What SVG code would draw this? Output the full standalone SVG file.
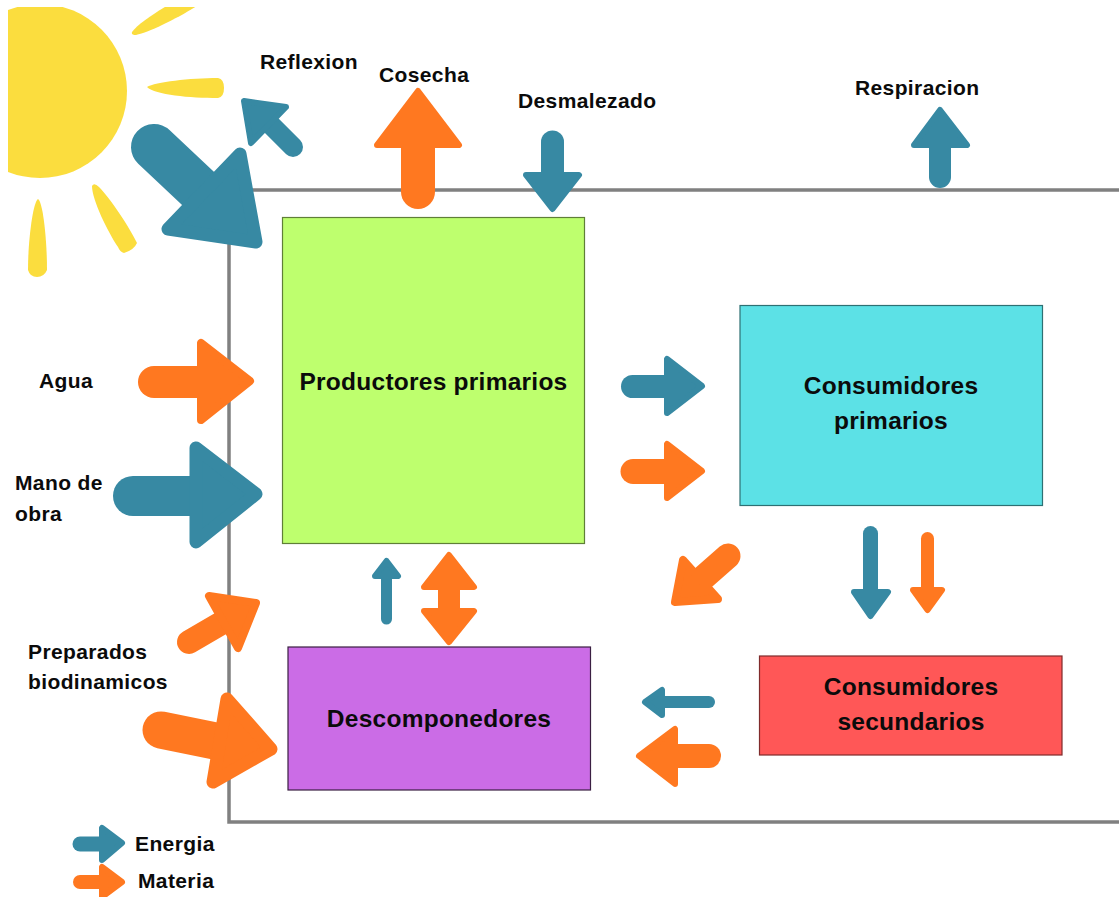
<svg xmlns="http://www.w3.org/2000/svg" width="1119" height="897" viewBox="0 0 1119 897">
<style>
text{font-family:"Liberation Sans",Arial,sans-serif;font-weight:700;fill:#0b0b0b}
.l{font-size:21px;letter-spacing:.38px}
.n{font-size:24.500px;text-anchor:middle;letter-spacing:.25px}
.sun{fill:#fbdd3e}
.box{stroke-width:1.2}
.e .s{stroke:#3789a3;fill:none;stroke-linecap:round}
.e .h{fill:#3789a3;stroke:#3789a3;stroke-width:6;stroke-linejoin:round}
.m .s{stroke:#ff7820;fill:none;stroke-linecap:round}
.m .h{fill:#ff7820;stroke:#ff7820;stroke-width:6;stroke-linejoin:round}
.h.b{stroke-width:13}
.h.k{stroke-width:8}
</style>
<defs><clipPath id="c"><rect x="8" y="7" width="300" height="290"/></clipPath></defs>
<rect width="1119" height="897" fill="#fff"/>
<g id="sun" clip-path="url(#c)">
<circle class="sun" cx="40" cy="91" r="87"/>
<path class="sun" d="M132,32C138,24 153,14 170,4L200,4C180,17 150,32 136,35Q131,35 132,32Z"/>
<path class="sun" d="M147,87C155,82 190,78 218,78Q224,79 224,88Q224,97 218,98C190,98 155,95 147,87Z"/>
<path class="sun" d="M92,186Q94,182 99,187C110,198 130,228 137,243Q134,250 124,253Q120,252 118,247C108,232 92,200 92,186Z"/>
<path class="sun" d="M38,199C43,202 47,240 47,270Q44,277 37,277Q30,277 28,270C28,240 33,202 38,199Z"/>
</g>
<g id="frame"><path d="M1119,190H229V822H1119" fill="none" stroke="#808080" stroke-width="3.5"/></g>
<g id="productores"><rect class="box" x="282.500" y="217.500" width="302" height="326" fill="#beff6e" stroke="#5f7f37"/><text class="n" x="433.500" y="389.500">Productores primarios</text></g>
<g id="consumidores-primarios"><rect class="box" x="740" y="305.500" width="302.500" height="200" fill="#5ce1e6" stroke="#2e7073"/><text class="n" x="891" y="394">Consumidores</text><text class="n" x="891" y="429">primarios</text></g>
<g id="descomponedores"><rect class="box" x="288" y="647" width="302.500" height="143" fill="#cb6ce6" stroke="#3a1f42"/><text class="n" x="439" y="726.500">Descomponedores</text></g>
<g id="consumidores-secundarios"><rect class="box" x="759.500" y="656" width="302.500" height="99" fill="#ff5757" stroke="#7f2b2b"/><text class="n" x="911" y="695">Consumidores</text><text class="n" x="911" y="730">secundarios</text></g>
<g id="connectors">
<g class="e"><path class="s" stroke-width="46" d="M154,147L205,195"/><path class="h b" d="M240,154L256,242L168,229Z"/></g>
<g class="e"><path class="s" stroke-width="20" d="M293,147L268,122"/><path class="h" d="M244,101L286,107L251,143Z"/></g>
<g class="m"><path class="s" stroke-width="34" d="M418,192V140"/><path class="h" d="M418,91L459,145H377Z"/></g>
<g class="e"><path class="s" stroke-width="23" d="M552.500,142V180"/><path class="h" d="M552.500,209L579,175H526Z"/></g>
<g class="e"><path class="s" stroke-width="22" d="M940,177V140"/><path class="h" d="M940,110L967,145H914Z"/></g>
<g class="m"><path class="s" stroke-width="32" d="M154,382H205"/><path class="h k" d="M250,381L201,343V420Z"/></g>
<g class="e"><path class="s" stroke-width="40" d="M133,496H195"/><path class="h b" d="M256,494L196,448V542Z"/></g>
<g class="m"><path class="s" stroke-width="24" d="M189,642L225,621"/><path class="h k" d="M209,596L256,603L238,648Z"/></g>
<g class="m"><path class="s" stroke-width="37" d="M161,730L220,742"/><path class="h b" d="M227,699L271,749L213,782Z"/></g>
<g class="e"><path class="s" stroke-width="23" d="M632.500,386.500H670"/><path class="h" d="M702,386L667,359V413Z"/></g>
<g class="m"><path class="s" stroke-width="25" d="M633,471.500H670"/><path class="h" d="M702,471L667,444V498Z"/></g>
<g class="m"><path class="s" stroke-width="25" d="M728,556L695,585"/><path class="h k" d="M683,560L675,602L718,599Z"/></g>
<g class="e"><path class="s" stroke-width="15" d="M870.500,533.500V595"/><path class="h" d="M870.500,616L888,592H854Z"/></g>
<g class="m"><path class="s" stroke-width="13" d="M927.500,538.500V590"/><path class="h" d="M927.500,610L942,590H913Z"/></g>
<g class="e"><path class="s" stroke-width="12" d="M709,702H660"/><path class="h" d="M645,702L662,690V715Z"/></g>
<g class="m"><path class="s" stroke-width="24" d="M709,756H670"/><path class="h" d="M639,756L675,729V784Z"/></g>
<g class="e"><path class="s" stroke-width="11" d="M386.500,619V575"/><path class="h" d="M386.500,561L398,576H375Z"/></g>
<g class="m"><path class="s" stroke-width="22" d="M449,585V615" style="stroke-linecap:butt"/><path class="h" d="M449,555L474,587H424Z"/><path class="h" d="M449,642L474,611H424Z"/></g>
<g class="e"><path class="s" stroke-width="15" d="M80,844H105"/><path class="h" d="M122,843L102,828V860Z"/></g>
<g class="m"><path class="s" stroke-width="14" d="M80,882H105"/><path class="h" d="M122,882L102,867V897Z"/></g>
</g>
<g id="labels">
<text class="l" x="260" y="69">Reflexion</text>
<text class="l" x="379" y="82">Cosecha</text>
<text class="l" x="518" y="108">Desmalezado</text>
<text class="l" x="855" y="95">Respiracion</text>
<text class="l" x="39" y="388">Agua</text>
<text class="l" x="15" y="490">Mano de</text>
<text class="l" x="15" y="521">obra</text>
<text class="l" x="28" y="659">Preparados</text>
<text class="l" x="28" y="689">biodinamicos</text>
<text class="l" x="135" y="851">Energia</text>
<text class="l" x="138" y="888">Materia</text>
</g>
</svg>
